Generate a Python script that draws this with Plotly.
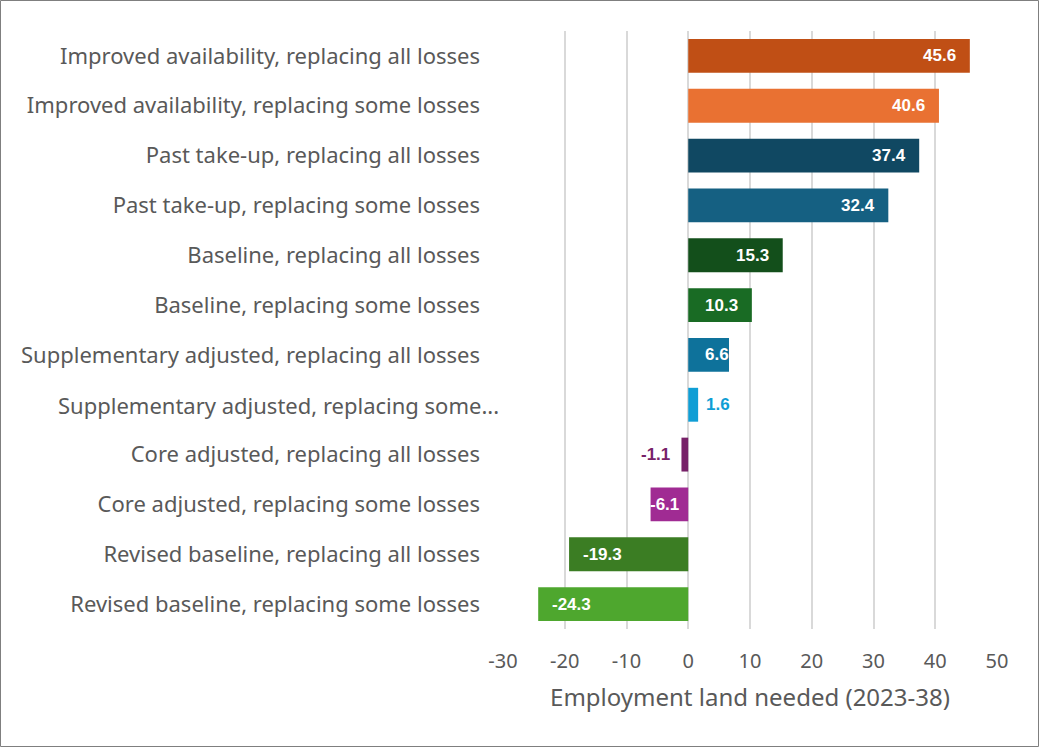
import plotly.graph_objects as go

categories = [
    "Improved availability, replacing all losses",
    "Improved availability, replacing some losses",
    "Past take-up, replacing all losses",
    "Past take-up, replacing some losses",
    "Baseline, replacing all losses",
    "Baseline, replacing some losses",
    "Supplementary adjusted, replacing all losses",
    "Supplementary adjusted, replacing some...",
    "Core adjusted, replacing all losses",
    "Core adjusted, replacing some losses",
    "Revised baseline, replacing all losses",
    "Revised baseline, replacing some losses",
]
values = [45.6, 40.6, 37.4, 32.4, 15.3, 10.3, 6.6, 1.6, -1.1, -6.1, -19.3, -24.3]
colors = ["#C04F15", "#E97132", "#104862", "#156082", "#134F1B", "#196B24",
          "#0E729B", "#0F9ED5", "#772168", "#A02B93", "#3B7D23", "#4EA72E"]
tick_vals = [-30, -20, -10, 0, 10, 20, 30, 40, 50]
x_range = [-30, 50]
truncated_label = "Supplementary adjusted, replacing some..."

W, H = 1039, 747
ml, mr, mt, mb = 503, 42, 31, 118
pw, ph = W - ml - mr, H - mt - mb
px_per_unit = pw / (x_range[1] - x_range[0])

fig = go.Figure(go.Bar(
    x=values, y=categories, orientation="h",
    marker=dict(color=colors, line=dict(width=0)),
    width=0.68,
    hoverinfo="skip",
))

FS = 17
def text_w(s):
    w = 0
    for ch in s:
        w += {".": 0.278, "-": 0.333}.get(ch, 0.556) * FS
    return w

PAD_END, PAD_START = 15, 16
annotations = []
for cat, v, c in zip(categories, values, colors):
    label = f"{v:.1f}"
    tw = text_w(label)
    bar_px = abs(v) * px_per_unit
    if bar_px < 18:  # too thin: outside end
        color = c
        if v >= 0:
            anchor, shift = "left", 7
        else:
            anchor, shift = "right", -10
        xv = v
    else:
        color = "white"
        L = max(PAD_START, bar_px - PAD_END - tw)
        if L + tw > bar_px:
            L = bar_px - tw
        xv = 0
        if v >= 0:
            anchor, shift = "left", L
        else:
            anchor, shift = "right", -L
    annotations.append(dict(
        x=xv, y=cat, xref="x", yref="y", text=label, showarrow=False,
        xanchor=anchor, xshift=shift, yanchor="middle", borderpad=0,
        font=dict(family="Liberation Sans", size=FS, color=color, weight="bold"),
    ))

# truncated category label (Excel draws it left-aligned, overflowing a bit)
annotations.append(dict(
    x=0, xref="paper", y=truncated_label, yref="y", text=truncated_label,
    showarrow=False, xanchor="right", xshift=-2, yanchor="middle",
    font=dict(family="Noto Sans", size=22, color="#595959"),
))
ticktext = ["" if c == truncated_label else c for c in categories]

fig.update_layout(
    width=W, height=H,
    margin=dict(l=ml, r=mr, t=mt, b=mb),
    paper_bgcolor="white", plot_bgcolor="white",
    showlegend=False,
    font=dict(family="Noto Sans", color="#595959"),
    annotations=annotations,
    xaxis=dict(
        range=x_range, tickvals=tick_vals, ticktext=[str(t) for t in tick_vals],
        showgrid=True, gridcolor="#D9D9D9", gridwidth=1.5,
        zeroline=False, showline=False, ticks="",
        tickfont=dict(size=20, color="#595959"),
        ticklabelstandoff=18,
        title=dict(text="Employment land needed (2023-38)", font=dict(size=24, color="#595959"), standoff=16),
    ),
    yaxis=dict(
        autorange="reversed", showgrid=False, ticks="",
        tickmode="array", tickvals=categories, ticktext=ticktext,
        tickfont=dict(size=22, color="#595959"),
        ticklabelstandoff=22,
    ),
    shapes=[dict(
        type="rect", xref="paper", yref="paper",
        x0=(0.5 - ml) / pw, x1=(W - 0.5 - ml) / pw,
        y0=-(H - 0.5 - mt - ph) / ph, y1=1 + (mt - 0.5) / ph,
        line=dict(color="#7F7F7F", width=1), fillcolor="rgba(0,0,0,0)",
    )],
)

fig.write_html("out.html", config={"displayModeBar": False},
               post_script="document.body.style.margin='0';")
